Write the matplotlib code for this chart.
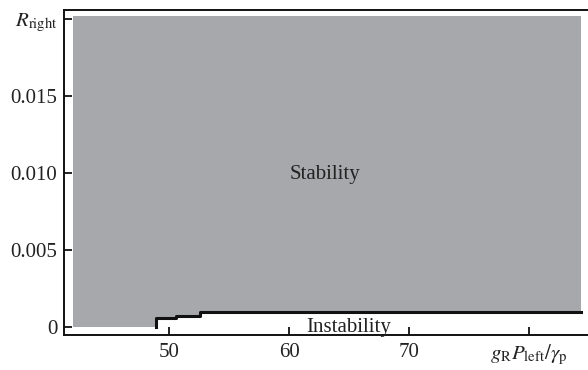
import matplotlib
matplotlib.use("Agg")
from matplotlib import pyplot as plt

# stability boundary (step curve)
bx = [48.9, 50.6, 52.6, 84.3]
by = [0.00062, 0.00075, 0.001, 0.001]
x_start = 42.0
y_top = 0.0202

xticks = [50, 60, 70, 80]
xlabels = ['50', '60', '70', r'$g_{\mathrm{R}}P_{\mathrm{left}}/\gamma_{\mathrm{p}}$']
yticks = [0, 0.005, 0.010, 0.015, 0.020]
ylabels = ['0', '0.005', '0.010', '0.015', r'$R_{\mathrm{right}}$']


def main():
    plt.rcParams['font.family'] = 'Liberation Serif'
    plt.rcParams['mathtext.fontset'] = 'stix'

    fig = plt.figure(figsize=(5.88, 3.7), dpi=100)
    ax = fig.add_axes([0.109, 0.095, 0.891, 0.878])

    # gray region: stable above the boundary
    fx = [x_start] + bx
    fy = [0] + by
    ax.fill_between(fx, fy, y_top, step='post', color='#a7a8ab', lw=0)

    # boundary line
    lx = [bx[0]] + bx
    ly = [0] + by
    ax.step(lx, ly, where='post', color='#111111', lw=2.2)

    ax.text(63.0, 0.0099, 'Stability', ha='center', va='center',
            fontsize=15, color='#222222')
    ax.text(65.0, -0.00002, 'Instability', ha='center', va='center',
            fontsize=15, color='#222222')

    ax.set_xlim(41.25, 84.9)
    ax.set_ylim(-0.00049, 0.0206)
    ax.set_xticks(xticks)
    ax.set_xticklabels(xlabels)
    ax.set_yticks(yticks)
    ax.set_yticklabels(ylabels)
    ax.tick_params(direction='in', length=6, width=1.3, labelsize=15,
                   colors='#111111', labelcolor='#222222')
    ax.tick_params(axis='x', pad=6)
    ax.tick_params(axis='y', pad=5)

    ax.spines['right'].set_visible(False)
    for s in ['left', 'bottom', 'top']:
        ax.spines[s].set_linewidth(1.4)
        ax.spines[s].set_color('#111111')

    fig.savefig('out.png', dpi=100)


main()
